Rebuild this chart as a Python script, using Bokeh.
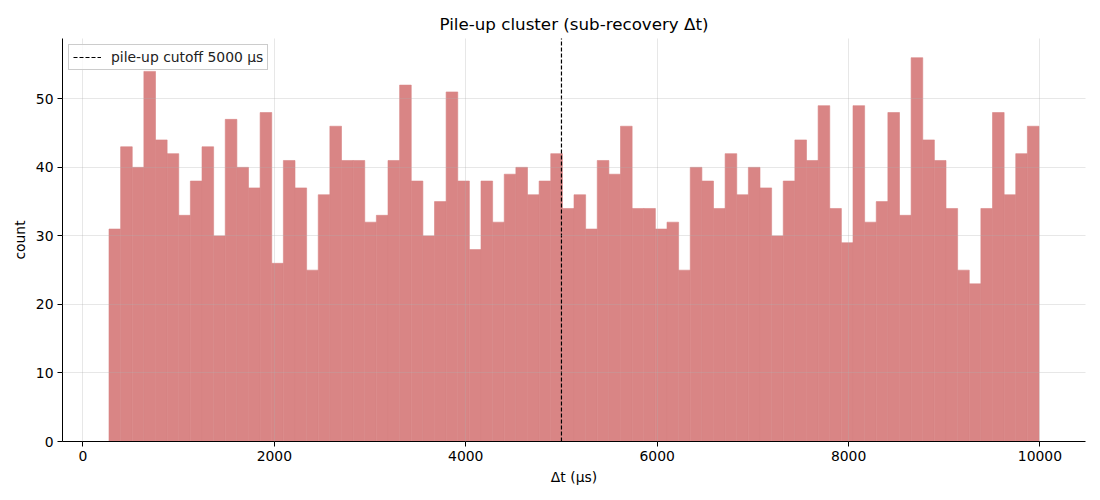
import numpy as np
from bokeh.plotting import figure
from bokeh.models import Range1d, Legend, LegendItem, FixedTicker, ColumnDataSource
from bokeh.embed import file_html
from bokeh.resources import INLINE

# ---- data ----
counts = [31, 43, 40, 54, 44, 42, 33, 38, 43, 30,
          47, 40, 37, 48, 26, 41, 37, 25, 36, 46,
          41, 41, 32, 33, 41, 52, 38, 30, 35, 51,
          38, 28, 38, 32, 39, 40, 36, 38, 42, 34,
          36, 31, 41, 39, 46, 34, 34, 31, 32, 25,
          40, 38, 34, 42, 36, 40, 37, 30, 38, 44,
          41, 49, 34, 29, 49, 32, 35, 48, 33, 56,
          44, 41, 34, 25, 23, 34, 48, 36, 42, 46]
bin_start = 272.0
bin_end = 9990.0
cutoff = 5000
x_ticks = [0, 2000, 4000, 6000, 8000, 10000]
y_ticks = [0, 10, 20, 30, 40, 50]
title = "Pile-up cluster (sub-recovery Δt)"
x_label = "Δt (µs)"
y_label = "count"
legend_label = "pile-up cutoff 5000 µs"

edges = np.linspace(bin_start, bin_end, len(counts) + 1)
src = ColumnDataSource(dict(left=edges[:-1], right=edges[1:], top=counts, bottom=[0] * len(counts)))
cut_src = ColumnDataSource(dict(x=[cutoff], y=[0]))

span_x = bin_end - bin_start
x_lo = bin_start - 0.05 * span_x
x_hi = bin_end + 0.05 * span_x
y_hi = max(counts) * 1.05

FONT = "DejaVu Sans"
BAR = "#d98585"

p = figure(width=1100, height=500, output_backend="svg", toolbar_location=None,
           x_range=Range1d(x_lo, x_hi), y_range=Range1d(0, y_hi),
           min_border_left=62, min_border_right=15, min_border_top=38, min_border_bottom=59)

p.quad(left="left", right="right", top="top", bottom="bottom", source=src,
       fill_color=BAR, fill_alpha=1.0, line_color=BAR, line_width=0.6)

cut = p.ray(x="x", y="y", length=0, angle=np.pi / 2, source=cut_src,
            line_color="black", line_dash="4 2", line_width=1.2)

p.xgrid.ticker = FixedTicker(ticks=x_ticks)
p.ygrid.ticker = FixedTicker(ticks=y_ticks)
p.grid.grid_line_color = "#b0b0b0"
p.grid.grid_line_alpha = 0.3
p.grid.level = "annotation"

legend = Legend(items=[LegendItem(label=legend_label, renderers=[cut])],
                location="top_left")
legend.label_text_font = FONT
legend.label_text_font_size = "13.9px"
legend.label_text_color = "#222222"
legend.border_line_color = "#cccccc"
legend.border_line_alpha = 1.0
legend.background_fill_alpha = 0.8
legend.margin = 6
legend.padding = 4
legend.spacing = 0
legend.glyph_width = 28
legend.glyph_height = 16
legend.label_standoff = 10
legend.label_height = 16
p.add_layout(legend)

p.title.text = title
p.title.align = "center"
p.title.text_font = FONT
p.title.text_font_size = "16.7px"
p.title.text_font_style = "normal"
p.title.text_color = "#000000"

for ax in (p.xaxis[0], p.yaxis[0]):
    ax.major_label_text_font = FONT
    ax.major_label_text_font_size = "13.9px"
    ax.major_label_text_color = "#000000"
    ax.axis_label_text_font = FONT
    ax.axis_label_text_font_size = "13.9px"
    ax.axis_label_text_font_style = "normal"
    ax.axis_label_text_color = "#000000"
    ax.axis_line_color = "black"
    ax.major_tick_line_color = "black"
    ax.major_tick_out = 5
    ax.major_tick_in = 0
    ax.minor_tick_line_color = None

p.xaxis.axis_label = x_label
p.yaxis.axis_label = y_label
p.xaxis.ticker = FixedTicker(ticks=x_ticks)
p.yaxis.ticker = FixedTicker(ticks=y_ticks)
p.xaxis.major_label_standoff = 4
p.yaxis.major_label_standoff = 4
p.outline_line_color = None

open("out.html", "w").write(file_html(p, INLINE))
